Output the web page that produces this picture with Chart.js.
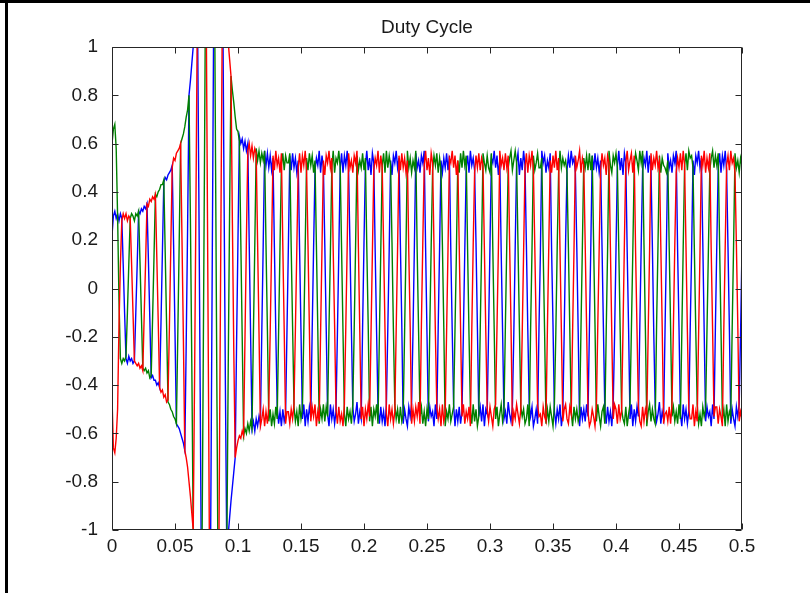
<!DOCTYPE html>
<html>
<head>
<meta charset="utf-8">
<title>Duty Cycle</title>
<script src="https://cdn.jsdelivr.net/npm/chart.js@4/dist/chart.umd.min.js"></script>
<style>
  html, body { margin: 0; padding: 0; background: #fff; }
  #wrap { position: relative; width: 810px; height: 593px; overflow: hidden; background: #fff; }
  #wrap canvas { position: absolute; left: 0; top: 0; }
  .edge { position: absolute; background: #000; pointer-events: none; }
</style>
</head>
<body>
<div id="wrap">
  <canvas id="chart" width="810" height="593"></canvas>
  <div class="edge" style="left:0;top:0;width:810px;height:3px;"></div>
  <div class="edge" style="left:5px;top:0;width:3px;height:593px;"></div>
</div>
<script>
// ---- data -------------------------------------------------------------
const TITLE = 'Duty Cycle';
const SAMPLE_PERIOD = 1 / 900;           // seconds between logged samples (18 per 20 ms cycle)

const X_TICK_VALUES = [0, 0.05, 0.1, 0.15, 0.2, 0.25, 0.3, 0.35, 0.4, 0.45, 0.5];
const X_TICK_LABELS = ['0', '0.05', '0.1', '0.15', '0.2', '0.25', '0.3', '0.35', '0.4', '0.45', '0.5'];
const Y_TICK_VALUES = [-1, -0.8, -0.6, -0.4, -0.2, 0, 0.2, 0.4, 0.6, 0.8, 1];
const Y_TICK_LABELS = ['-1', '-0.8', '-0.6', '-0.4', '-0.2', '0', '0.2', '0.4', '0.6', '0.8', '1'];

// phase duty cycles, one row per 20 ms cycle
const dutyBlue = [
  .22,.30,.32,.29,.31,.28,.31,.29,.10,-.10,-.29,-.31,-.28,-.30,-.29,-.31,-.30,-.10,
  .10,.32,.31,.33,.32,.34,.33,.35,.12,-.12,-.37,-.36,-.38,-.38,-.40,-.39,-.41,-.14,
  .15,.44,.46,.45,.47,.48,.49,.51,.18,-.18,-.56,-.57,-.58,-.60,-.62,-.64,-.67,-.23,
  .25,.80,.86,.93,1.00,1.07,1.13,1.19,.42,-.43,-1.34,-1.38,-1.41,-1.44,-1.46,-1.48,-1.49,-.50,
  .50,1.49,1.48,1.46,1.43,1.40,1.36,1.31,.42,-.40,-1.10,-1.02,-.95,-.88,-.82,-.76,-.70,-.22,
  .21,.63,.60,.62,.58,.61,.57,.60,.19,-.19,-.58,-.55,-.59,-.54,-.57,-.53,-.56,-.18,
  .18,.57,.51,.56,.50,.55,.49,.54,.17,-.18,-.49,-.56,-.51,-.57,-.50,-.55,-.52,-.17,
  .18,.55,.49,.56,.50,.54,.48,.53,.16,-.18,-.54,-.48,-.57,-.50,-.55,-.49,-.53,-.17,
  .17,.49,.54,.51,.57,.48,.55,.50,.18,-.16,-.52,-.57,-.48,-.54,-.50,-.56,-.51,-.19,
  .15,.50,.56,.48,.55,.51,.57,.49,.17,-.17,-.49,-.55,-.52,-.47,-.56,-.51,-.54,-.16,
  .19,.51,.57,.49,.54,.47,.56,.52,.15,-.18,-.50,-.56,-.49,-.55,-.51,-.57,-.48,-.17,
  .16,.53,.47,.55,.52,.57,.50,.54,.18,-.15,-.56,-.50,-.54,-.57,-.49,-.53,-.48,-.18,
  .18,.56,.50,.53,.48,.55,.52,.57,.17,-.19,-.55,-.49,-.53,-.51,-.57,-.48,-.54,-.16,
  .17,.53,.48,.54,.50,.56,.49,.55,.16,-.17,-.48,-.57,-.50,-.55,-.49,-.56,-.51,-.18,
  .16,.50,.55,.48,.57,.51,.54,.49,.19,-.16,-.53,-.49,-.55,-.48,-.57,-.50,-.52,-.17,
  .18,.54,.52,.57,.50,.55,.47,.53,.15,-.18,-.54,-.51,-.56,-.47,-.52,-.55,-.49,-.19,
  .17,.52,.56,.47,.54,.49,.57,.51,.18,-.17,-.48,-.53,-.49,-.57,-.54,-.50,-.56,-.16,
  .15,.57,.52,.55,.48,.53,.50,.56,.16,-.15,-.51,-.56,-.50,-.54,-.48,-.57,-.52,-.18,
  .19,.49,.55,.50,.57,.52,.54,.48,.17,-.18,-.57,-.49,-.54,-.50,-.55,-.48,-.53,-.17,
  .17,.55,.49,.56,.50,.54,.48,.53,.18,-.16,-.50,-.56,-.49,-.55,-.51,-.57,-.48,-.19,
  .16,.51,.57,.49,.54,.47,.56,.52,.15,-.17,-.54,-.48,-.57,-.50,-.55,-.49,-.53,-.16,
  .18,.49,.54,.51,.57,.48,.55,.50,.17,-.19,-.49,-.55,-.52,-.47,-.56,-.51,-.54,-.18,
  .17,.56,.50,.53,.48,.55,.52,.57,.16,-.16,-.52,-.57,-.48,-.54,-.50,-.56,-.51,-.17,
  .15,.53,.47,.55,.52,.57,.50,.54,.19,-.18,-.55,-.49,-.53,-.51,-.57,-.48,-.54,-.16,
  .18,.50,.56,.48,.55,.51,.57,.49,.17,-.17,-.56,-.50,-.54,-.57,-.49,-.53,-.48,-.18,
  .17
];

const dutyGreen = [
  .60,.66,.68,.58,.30,-.05,-.29,-.31,-.29,-.30,-.28,-.10,.10,.29,.31,.30,.28,.31,
  .30,.32,.11,-.11,-.33,-.34,-.33,-.35,-.34,-.37,-.36,-.12,.13,.39,.38,.40,.41,.43,
  .43,.45,.15,-.15,-.47,-.48,-.50,-.51,-.53,-.54,-.56,-.19,.19,.60,.62,.64,.67,.71,
  .74,.80,.29,-.31,-1.00,-1.07,-1.13,-1.19,-1.25,-1.30,-1.34,-.46,.47,1.44,1.46,1.48,1.49,1.50,
  1.50,1.49,.49,-.49,-1.43,-1.40,-1.36,-1.31,-1.25,-1.18,-1.10,-.34,.32,.88,.82,.77,.71,.66,
  .65,.61,.20,-.20,-.61,-.58,-.60,-.56,-.59,-.55,-.58,-.19,.18,.58,.53,.57,.52,.56,
  .53,.57,.18,-.17,-.55,-.50,-.57,-.52,-.56,-.49,-.54,-.18,.17,.51,.56,.49,.55,.52,
  .52,.56,.17,-.16,-.49,-.55,-.51,-.57,-.48,-.54,-.50,-.18,.17,.54,.49,.56,.51,.55,
  .48,.53,.18,-.17,-.56,-.50,-.54,-.48,-.55,-.49,-.53,-.16,.15,.50,.57,.48,.54,.52,
  .57,.50,.16,-.18,-.52,-.57,-.49,-.54,-.51,-.56,-.48,-.17,.18,.55,.49,.53,.50,.56,
  .49,.54,.17,-.15,-.55,-.49,-.57,-.50,-.53,-.48,-.56,-.19,.16,.51,.56,.48,.57,.50,
  .55,.51,.19,-.17,-.48,-.54,-.50,-.56,-.49,-.55,-.52,-.18,.17,.57,.50,.54,.48,.53,
  .50,.57,.15,-.18,-.53,-.49,-.56,-.51,-.57,-.50,-.54,-.16,.18,.49,.55,.51,.56,.48,
  .54,.49,.18,-.16,-.57,-.51,-.54,-.48,-.55,-.52,-.49,-.17,.15,.53,.48,.56,.50,.57,
  .51,.55,.16,-.19,-.50,-.56,-.48,-.55,-.50,-.57,-.53,-.18,.17,.56,.52,.49,.55,.50,
  .48,.56,.17,-.17,-.54,-.49,-.57,-.52,-.48,-.55,-.51,-.15,.19,.50,.54,.57,.49,.53,
  .57,.52,.18,-.16,-.49,-.53,-.50,-.56,-.54,-.48,-.57,-.17,.16,.55,.49,.52,.56,.50,
  .50,.54,.15,-.18,-.56,-.50,-.55,-.49,-.53,-.57,-.48,-.19,.17,.48,.57,.50,.54,.51,
  .53,.48,.17,-.17,-.51,-.57,-.49,-.54,-.50,-.55,-.52,-.16,.18,.54,.50,.55,.49,.56,
  .49,.55,.19,-.15,-.55,-.48,-.53,-.57,-.51,-.49,-.56,-.18,.16,.57,.51,.48,.55,.52,
  .56,.50,.16,-.18,-.50,-.54,-.56,-.49,-.57,-.52,-.48,-.17,.15,.50,.56,.53,.49,.57,
  .52,.57,.18,-.17,-.57,-.51,-.48,-.55,-.50,-.54,-.56,-.15,.18,.55,.48,.54,.51,.50,
  .48,.53,.17,-.16,-.53,-.49,-.55,-.51,-.56,-.48,-.54,-.19,.17,.51,.56,.49,.57,.54,
  .55,.50,.15,-.18,-.48,-.56,-.52,-.57,-.49,-.53,-.50,-.17,.16,.49,.54,.57,.50,.55,
  .51,.56,.18,-.17,-.54,-.50,-.57,-.48,-.55,-.51,-.53,-.16,.18,.56,.50,.53,.48,.54,
  .51
];

const dutyRed = [
  -.45,-.66,-.68,-.62,-.50,-.15,.10,.28,.31,.29,.31,.28,.30,.29,.10,-.10,-.30,-.31,
  -.32,-.31,-.33,-.32,-.34,-.11,.11,.35,.34,.37,.36,.38,.37,.39,.13,-.13,-.41,-.43,
  -.42,-.45,-.44,-.47,-.46,-.16,.17,.50,.54,.53,.56,.57,.58,.60,.20,-.21,-.67,-.70,
  -.74,-.80,-.86,-.93,-1.00,-.36,.38,1.19,1.25,1.30,1.34,1.38,1.41,1.44,.49,-.49,-1.49,-1.50,
  -1.50,-1.49,-1.48,-1.46,-1.43,-.47,.45,1.31,1.25,1.18,1.10,1.02,.95,.88,.27,-.26,-.70,-.66,
  -.63,-.61,-.62,-.59,-.61,-.20,.20,.57,.60,.55,.59,.54,.58,.56,.19,-.18,-.57,-.54,
  -.50,-.57,-.51,-.56,-.49,-.18,.17,.55,.49,.57,.51,.54,.48,.56,.18,-.17,-.56,-.51,
  -.51,-.56,-.50,-.54,-.48,-.17,.16,.50,.56,.48,.55,.51,.57,.49,.18,-.17,-.55,-.49,
  -.53,-.48,-.57,-.51,-.55,-.18,.17,.53,.47,.55,.52,.57,.50,.54,.16,-.15,-.50,-.56,
  -.49,-.55,-.52,-.57,-.48,-.16,.18,.56,.50,.53,.48,.55,.52,.57,.17,-.18,-.54,-.49,
  -.57,-.50,-.54,-.48,-.53,-.19,.15,.49,.54,.51,.57,.48,.55,.50,.18,-.17,-.52,-.57,
  -.48,-.54,-.50,-.56,-.51,-.17,.17,.55,.49,.56,.50,.54,.48,.53,.15,-.16,-.56,-.50,
  -.55,-.49,-.53,-.47,-.56,-.15,.19,.51,.57,.49,.54,.47,.56,.52,.17,-.19,-.49,-.54,
  -.50,-.57,-.48,-.55,-.52,-.18,.16,.54,.52,.57,.50,.55,.47,.53,.18,-.17,-.53,-.48,
  -.56,-.51,-.54,-.49,-.57,-.17,.18,.48,.55,.50,.56,.49,.54,.51,.16,-.18,-.50,-.55,
  -.49,-.53,-.57,-.50,-.48,-.16,.17,.57,.51,.54,.49,.56,.50,.55,.19,-.15,-.57,-.51,
  -.54,-.48,-.52,-.56,-.50,-.19,.15,.50,.56,.48,.55,.51,.57,.49,.17,-.17,-.48,-.53,
  -.52,-.57,-.49,-.53,-.55,-.17,.18,.53,.48,.55,.50,.57,.49,.54,.16,-.18,-.55,-.50,
  -.48,-.54,-.56,-.49,-.52,-.18,.16,.55,.50,.53,.57,.48,.54,.51,.18,-.16,-.51,-.57,
  -.55,-.50,-.53,-.57,-.49,-.15,.17,.49,.56,.51,.54,.47,.55,.52,.17,-.19,-.54,-.48,
  -.50,-.56,-.48,-.54,-.51,-.17,.19,.52,.57,.49,.53,.56,.48,.55,.15,-.17,-.49,-.55,
  -.57,-.49,-.55,-.50,-.53,-.18,.16,.56,.49,.54,.51,.57,.50,.53,.18,-.16,-.56,-.52,
  -.51,-.55,-.49,-.56,-.48,-.16,.18,.48,.54,.50,.56,.49,.57,.51,.17,-.18,-.50,-.54,
  -.54,-.48,-.57,-.51,-.55,-.19,.15,.55,.51,.57,.48,.54,.50,.56,.16,-.17,-.53,-.49,
  -.49,-.56,-.50,-.53,-.57,-.17,.17,.51,.55,.49,.57,.52,.54,.48,.18,-.15,-.55,-.51,
  -.54
];

// ---- drawing --------------------------------------------------------------
const FONT_FAMILY = '"Liberation Sans", Arial, Helvetica, sans-serif';
const AXIS_COLOR = '#262626';
const TEXT_COLOR = '#1a1a1a';
const TICK_LEN = 6;

const toPoints = arr => arr.map((v, i) => ({ x: i * SAMPLE_PERIOD, y: v }));

// boxed axes with inward tick marks on all four sides, plus the title
const boxAxes = {
  id: 'boxAxes',
  afterDraw(chart) {
    const { ctx, chartArea: a, scales: { x, y } } = chart;
    ctx.save();
    ctx.strokeStyle = AXIS_COLOR;
    ctx.lineWidth = 1;
    const L = Math.round(a.left) + 0.5, R = Math.round(a.right) - 0.5;
    const T = Math.round(a.top) + 0.5, B = Math.round(a.bottom) - 0.5;
    ctx.beginPath();
    ctx.rect(L, T, R - L, B - T);
    x.ticks.forEach(t => {
      const px = Math.round(x.getPixelForValue(t.value)) + 0.5;
      ctx.moveTo(px, B); ctx.lineTo(px, B - TICK_LEN);
      ctx.moveTo(px, T); ctx.lineTo(px, T + TICK_LEN);
    });
    y.ticks.forEach(t => {
      const py = Math.round(y.getPixelForValue(t.value)) + 0.5;
      ctx.moveTo(L, py); ctx.lineTo(L + TICK_LEN, py);
      ctx.moveTo(R, py); ctx.lineTo(R - TICK_LEN, py);
    });
    ctx.stroke();

    ctx.fillStyle = TEXT_COLOR;
    ctx.font = '19px ' + FONT_FAMILY;
    ctx.textAlign = 'center';
    ctx.textBaseline = 'alphabetic';
    ctx.fillText(TITLE, (a.left + a.right) / 2, 33);
    ctx.restore();
  }
};

const line = (label, data, color, order) => ({
  label, data: toPoints(data), borderColor: color, backgroundColor: color,
  borderWidth: 1.4, pointRadius: 0, tension: 0, fill: false, order
});

new Chart(document.getElementById('chart'), {
  type: 'line',
  data: {
    datasets: [
      line('Phase A', dutyBlue, '#0000ff', 2),
      line('Phase B', dutyGreen, '#008000', 1),
      line('Phase C', dutyRed, '#ff0000', 0)
    ]
  },
  options: {
    responsive: false,
    animation: false,
    devicePixelRatio: 1,
    events: [],
    layout: { padding: { top: 47, right: 68, left: 0, bottom: 0 } },
    plugins: { legend: { display: false }, tooltip: { enabled: false }, title: { display: false } },
    scales: {
      x: {
        type: 'linear', position: 'bottom', min: 0, max: 0.5,
        grid: { display: false }, border: { display: false },
        afterBuildTicks: s => { s.ticks = X_TICK_VALUES.map(v => ({ value: v })); },
        afterFit: s => { s.height = 63; },
        ticks: {
          color: TEXT_COLOR, padding: -3, maxRotation: 0, autoSkip: false,
          font: { family: FONT_FAMILY, size: 19 },
          callback: (v, i) => X_TICK_LABELS[i]
        }
      },
      y: {
        type: 'linear', position: 'left', min: -1, max: 1,
        grid: { display: false }, border: { display: false },
        afterBuildTicks: s => { s.ticks = Y_TICK_VALUES.map(v => ({ value: v })); },
        afterFit: s => { s.width = 112; },
        ticks: {
          color: TEXT_COLOR, padding: 6, autoSkip: false,
          font: { family: FONT_FAMILY, size: 19 },
          callback: (v, i) => Y_TICK_LABELS[i]
        }
      }
    }
  },
  plugins: [boxAxes]
});
</script>
</body>
</html>
